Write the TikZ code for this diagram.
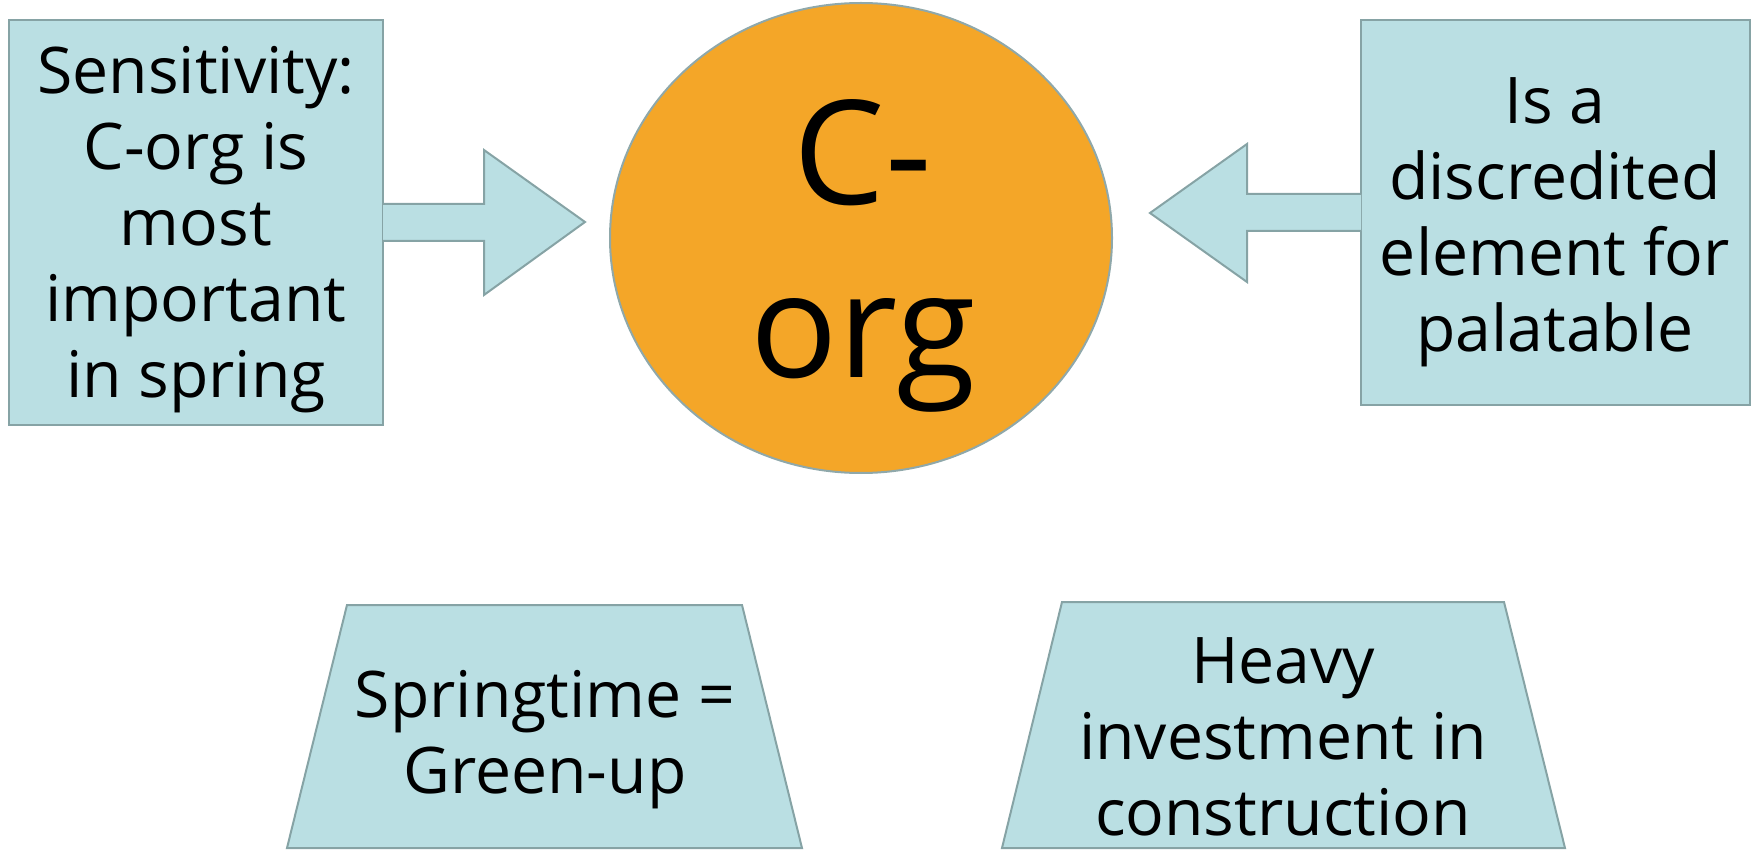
\documentclass[tikz,border=0pt]{standalone}
\usepackage{fontspec}
\setmainfont{Open Sans}
\definecolor{boxfill}{RGB}{186,223,227}
\definecolor{boxline}{RGB}{134,163,165}
\definecolor{orgfill}{RGB}{244,166,40}
\definecolor{orgline}{RGB}{143,168,170}
\tikzset{
  shapebox/.style={fill=boxfill,draw=boxline,line width=2pt,line join=miter},
  bodytext/.style={align=center,inner sep=0pt,font=\fontsize{64.3}{76}\selectfont},
  bigtext/.style={align=center,inner sep=0pt,font=\fontsize{145}{173}\selectfont}
}
\begin{document}
\begin{tikzpicture}[x=1pt,y=-1pt]
\useasboundingbox (0,0) rectangle (1757,850);
% left box with right arrow
\draw[shapebox] (9,20) rectangle (383,425);
\draw[shapebox] (383,204) -- (484,204) -- (484,150) -- (585,222) -- (484,295) -- (484,241) -- (383,241);
\node[bodytext] (sens) at (196,230) {Sensitivity:\\C-org is\\most\\important\\in spring};
% ellipse
\draw[fill=orgfill,draw=orgline,line width=2pt] (861,238) ellipse [x radius=251, y radius=235];
\node[bigtext] (corg) at (863,256) {C-\\org};
% right box with left arrow
\draw[shapebox] (1361,20) rectangle (1750,405);
\draw[shapebox] (1361,194) -- (1247,194) -- (1247,144) -- (1150,213) -- (1247,282) -- (1247,231) -- (1361,231);
\node[bodytext] (disc) at (1555,222) {Is a\\discredited\\element for\\palatable};
% trapezoids
\draw[shapebox] (347,605) -- (742,605) -- (802,848) -- (287,848) -- cycle;
\node[bodytext] (spring) at (545,740) {Springtime =\\Green-up};
\draw[shapebox] (1062,602) -- (1504,602) -- (1565,848) -- (1002,848) -- cycle;
\node[bodytext] (heavy) at (1283,737) {Heavy\\investment in\\construction};
\end{tikzpicture}
\end{document}
